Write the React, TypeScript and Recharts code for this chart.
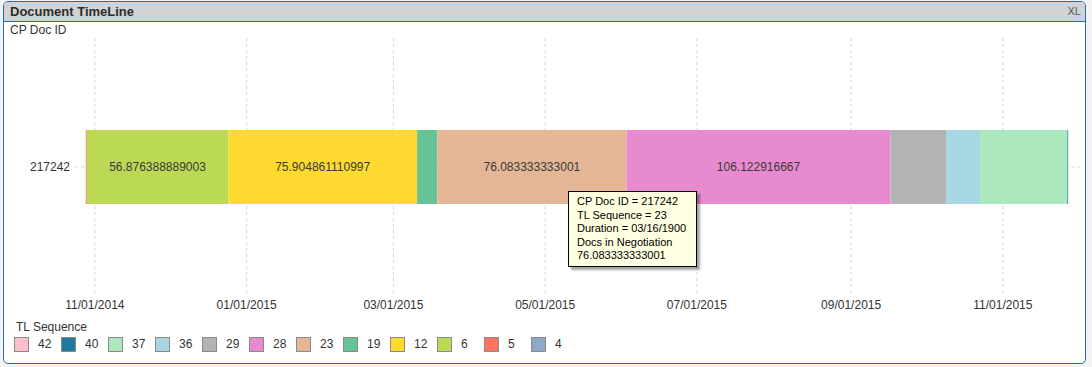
import { BarChart, Bar, XAxis, YAxis, CartesianGrid, Tooltip, LabelList } from "recharts"

// one document, its timeline stages laid end to end
const docId = "217242"
const timelineStart = "2014-10-28T08:00:00Z"
const axisRange = ["2014-10-24", "2015-12-02"]
const tickDates = [
  "2014-11-01",
  "2015-01-01",
  "2015-03-01",
  "2015-05-01",
  "2015-07-01",
  "2015-09-01",
  "2015-11-01",
]

const sequences = [5, 6, 12, 19, 23, 28, 29, 36, 37, 40]
const durations = [
  0.4, 56.876388889003, 75.904861110997, 8.1, 76.083333333001, 106.122916667, 22.3, 13.7, 35.1, 0.3,
]

const legendSequences = [42, 40, 37, 36, 29, 28, 23, 19, 12, 6, 5, 4]
const seqColors: Record<number, string> = {
  42: "#FFC0CB",
  40: "#1F7B9C",
  37: "#ACE8BE",
  36: "#A7D7E2",
  29: "#B3B3B3",
  28: "#E78AD0",
  23: "#E4B695",
  19: "#66C397",
  12: "#FED92F",
  6: "#BCD955",
  5: "#FF7262",
  4: "#8EA9C8",
}

// tooltip as it was captured (hovering TL Sequence 23)
const hoveredSeq = 23
const hoveredStage = "Docs in Negotiation"

const DAY = 86400000
const dayNum = (s: string) => Date.parse(s) / DAY
const domainMin = dayNum(axisRange[0])
const domainMax = dayNum(axisRange[1])

const fmtDate = (ms: number) => {
  const d = new Date(ms)
  const mm = String(d.getUTCMonth() + 1).padStart(2, "0")
  const dd = String(d.getUTCDate()).padStart(2, "0")
  return `${mm}/${dd}/${d.getUTCFullYear()}`
}

// QlikView shows a duration formatted as a date from its serial epoch
const serialToDate = (v: number) => fmtDate(Date.UTC(1899, 11, 30) + Math.floor(v) * DAY)

const row: Record<string, string | number> = { id: docId, offset: dayNum(timelineStart) }
sequences.forEach((s, i) => {
  row[`s${s}`] = durations[i]
})
const data = [row]

const font = "Arial, 'Liberation Sans', sans-serif"

function SegmentLabel(props: any) {
  const { x, y, width, height, value } = props
  if (width < 100) return null
  return (
    <text
      x={x + width / 2}
      y={y + height / 2}
      textAnchor="middle"
      dominantBaseline="central"
      fontSize={12}
      fill="#3a3a3a"
    >
      {String(value)}
    </text>
  )
}

function TipBox({ payload }: any) {
  const p = payload?.find((e: any) => e.dataKey === `s${hoveredSeq}`)
  if (!p) return null
  return (
    <div
      style={{
        width: 129,
        height: 76,
        boxSizing: "border-box",
        background: "#FFFFE1",
        border: "1px solid #000",
        boxShadow: "3px 3px 2px rgba(0,0,0,0.35)",
        fontFamily: font,
        fontSize: 11,
        lineHeight: "13.5px",
        color: "#000",
        padding: "3px 0 0 8px",
        whiteSpace: "nowrap",
      }}
    >
      <div>CP Doc ID = {p.payload.id}</div>
      <div>TL Sequence = {hoveredSeq}</div>
      <div>Duration = {serialToDate(p.value)}</div>
      <div>{hoveredStage}</div>
      <div>{String(p.value)}</div>
    </div>
  )
}

export default function App() {
  return (
    <div
      style={{
        position: "absolute",
        left: 0,
        top: 0,
        width: 1092,
        height: 367,
        background: "#F3F3F3",
        fontFamily: font,
        color: "#333",
      }}
    >
      <div
        style={{
          position: "absolute",
          left: 3,
          top: 1,
          width: 1081,
          height: 361,
          border: "1px solid #1E6DBD",
          borderRadius: 5,
          background: "#fff",
          overflow: "hidden",
        }}
      >
        <div
          style={{
            height: 19,
            background: "#D3D3D3",
            borderBottom: "1px solid #1E6DBD",
            position: "relative",
          }}
        >
          <span style={{ position: "absolute", left: 6, top: 2, fontSize: 13, fontWeight: "bold", color: "#2d2d2d" }}>
            Document TimeLine
          </span>
          <span style={{ position: "absolute", right: 4, top: 3, fontSize: 11, color: "#555" }}>XL</span>
        </div>
      </div>

      <div style={{ position: "absolute", left: 10, top: 23, fontSize: 12 }}>CP Doc ID</div>

      <div style={{ position: "absolute", left: 0, top: 0 }}>
        <BarChart
          width={1092}
          height={320}
          data={data}
          layout="vertical"
          margin={{ top: 38, right: 12, bottom: 0, left: 5 }}
        >
          <CartesianGrid
            strokeDasharray="3 3"
            stroke="#D6D6D6"
            horizontalCoordinatesGenerator={({ offset }: any) => [offset.top + offset.height / 2]}
            verticalCoordinatesGenerator={({ offset }: any) =>
              tickDates.map(
                (d) => offset.left + ((dayNum(d) - domainMin) / (domainMax - domainMin)) * offset.width
              )
            }
          />
          <XAxis
            type="number"
            domain={[domainMin, domainMax]}
            allowDataOverflow
            ticks={tickDates.map(dayNum)}
            tickFormatter={(v: number) => fmtDate(v * DAY)}
            axisLine={false}
            tickLine={false}
            tickSize={2}
            tickMargin={2}
            height={24}
            tick={{ fontSize: 12, fill: "#333" }}
          />
          <YAxis
            type="category"
            dataKey="id"
            width={70}
            axisLine={false}
            tickLine={false}
            tickSize={3}
            tickMargin={2}
            tick={{ fontSize: 12, fill: "#333" }}
          />
          <Tooltip
            active
            defaultIndex={0}
            position={{ x: 568, y: 191 }}
            cursor={false}
            isAnimationActive={false}
            content={<TipBox />}
          />
          <Bar dataKey="offset" stackId="t" fill="transparent" barSize={74} isAnimationActive={false} />
          {sequences.map((s) => (
            <Bar
              key={s}
              dataKey={`s${s}`}
              stackId="t"
              fill={seqColors[s]}
              barSize={74}
              isAnimationActive={false}
            >
              <LabelList dataKey={`s${s}`} content={<SegmentLabel />} />
            </Bar>
          ))}
        </BarChart>
      </div>

      <div style={{ position: "absolute", left: 16, top: 320, fontSize: 12, lineHeight: "14px" }}>TL Sequence</div>
      <div style={{ position: "absolute", left: 14, top: 337, display: "flex" }}>
        {legendSequences.map((s) => (
          <div key={s} style={{ width: 47, display: "flex", alignItems: "center" }}>
            <div
              style={{
                width: 13,
                height: 13,
                background: seqColors[s],
                border: "1px solid #8a8a8a",
              }}
            />
            <span style={{ marginLeft: 9, fontSize: 12, lineHeight: "15px" }}>{s}</span>
          </div>
        ))}
      </div>
    </div>
  )
}
